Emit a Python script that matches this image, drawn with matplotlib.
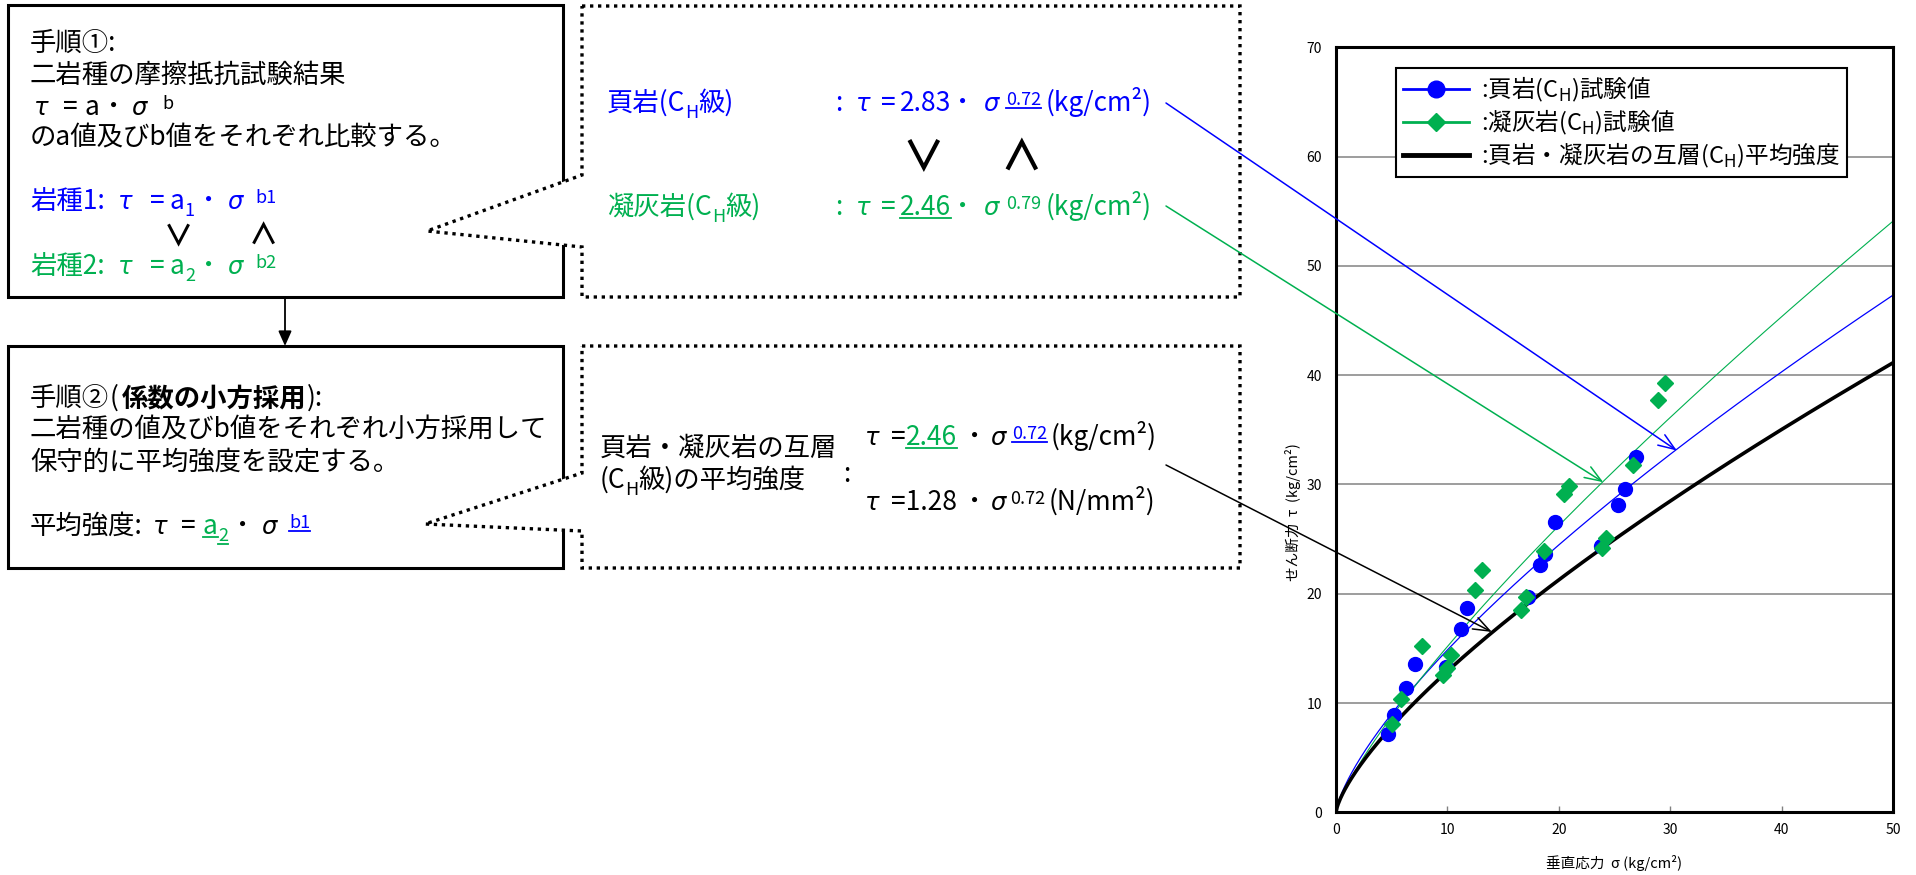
import matplotlib
matplotlib.use('Agg')
import matplotlib.pyplot as plt
import numpy as np
from matplotlib.patches import Rectangle, Polygon, ConnectionPatch
from matplotlib.lines import Line2D

plt.rcParams['font.family'] = ['Noto Sans CJK JP', 'DejaVu Sans']

BLUE = '#0000ff'
GREEN = '#00b050'

# 試験値
shale_sigma = [4.7, 5.2, 6.3, 7.1, 9.9, 11.2, 11.8, 17.2, 18.3, 18.8, 19.7, 23.8, 25.3, 25.9, 26.9]
shale_tau = [7.2, 8.9, 11.4, 13.6, 13.3, 16.8, 18.7, 19.7, 22.6, 23.6, 26.6, 24.4, 28.1, 29.6, 32.5]
tuff_sigma = [5.0, 5.8, 7.7, 9.6, 10.0, 10.3, 12.5, 13.1, 16.6, 17.1, 18.7, 20.5, 20.9, 23.9, 24.2, 26.7, 28.9, 29.5]
tuff_tau = [8.1, 10.4, 15.2, 12.6, 13.2, 14.4, 20.3, 22.2, 18.5, 19.7, 23.9, 29.1, 29.9, 24.2, 25.1, 31.8, 37.7, 39.3]

# 強度式 τ = a・σ^b
shale_a, shale_b = 2.83, 0.72
tuff_a, tuff_b = 2.46, 0.79
mean_a, mean_b = 2.46, 0.72

legend_labels = [':頁岩(C$_\\mathrm{H}$)試験値',
                 ':凝灰岩(C$_\\mathrm{H}$)試験値',
                 ':頁岩・凝灰岩の互層(C$_\\mathrm{H}$)平均強度']

# 矢印の先（グラフ上の点）
arrow_sigma = [30.6, 24.0, 14.0]
arrow_tau = [33.1, 30.2, 16.5]

fig = plt.figure(figsize=(19.16, 8.75), dpi=100)

# 左側の説明図はピクセル座標で描く
bg = fig.add_axes([0, 0, 1, 1])
bg.set_xlim(0, 1916)
bg.set_ylim(875, 0)
bg.axis('off')
R = fig.canvas.get_renderer()

# 種類: (サイズ, 上下ずれ)
SZ = {'n': (19, 0), 'b': (19, 0), 'g': (17.5, 0), 'dot': (19, 0), 'sub': (13, 7), 'sup': (13, -6)}


def flow(parts, y, color='k'):
    # 数値 = 絶対x位置, [dx] = 相対移動, タプル = (文字, 種類, 色, 下線)
    x = 0
    for p in parts:
        if isinstance(p, list):
            x += p[0]
            continue
        if not isinstance(p, tuple):
            x = p
            continue
        s = p[0]
        kind = p[1] if len(p) > 1 else 'n'
        c = p[2] if len(p) > 2 and p[2] else color
        ul = len(p) > 3 and p[3]
        size, dy = SZ[kind]
        kw = {}
        if kind == 'g':
            kw = dict(family='DejaVu Sans', style='italic')
        t = bg.text(x, y + dy, s, fontsize=size, color=c, va='baseline',
                    fontweight='bold' if kind in ('b', 'dot') else 'normal', zorder=5, **kw)
        w = t.get_window_extent(R).width
        if ul:
            bg.plot([x, x + w], [y + dy + 3, y + dy + 3], color=c, lw=1.3, zorder=5)
        x += w


def mark(x, y, s, size):
    bg.text(x, y, s, fontsize=size, ha='center', va='center', fontweight='bold', zorder=5)


# 実線の枠
for x0, y0, x1, y1 in [(8, 5, 563, 297), (8, 346, 563, 568)]:
    bg.add_patch(Rectangle((x0, y0), x1 - x0, y1 - y0, fill=False, ec='k', lw=2.2, zorder=2))

# 吹き出し（点線）
for top, bot, tip, a1, a2 in [(6, 297, (427, 231), 175, 247), (346, 568, (425, 524), 473, 531)]:
    pts = [(582, top), (1240, top), (1240, bot), (582, bot), (582, a2), tip, (582, a1)]
    bg.add_patch(Polygon(pts, closed=True, fc='white', ec='k', lw=2.4,
                         ls=(0, (1, 1.4)), joinstyle='miter', zorder=3))

bg.annotate('', xy=(285, 346), xytext=(285, 297),
            arrowprops=dict(arrowstyle='-|>,head_length=0.9,head_width=0.4',
                            color='k', lw=1.3, shrinkA=0, shrinkB=0))

# 手順①
flow([30, ('手順①:',)], 51)
flow([30, ('二岩種の摩擦抵抗試験結果',)], 83)
flow([34, ('τ', 'g'), 63, ('=',), 85, ('a',), 107, ('･', 'dot'), 131, ('σ', 'g'), 162, ('b', 'sup')], 115)
flow([30, ('のa値及びb値をそれぞれ比較する。',)], 146)
flow([30, ('岩種1:',), 118, ('τ', 'g'), 150, ('=',), 170, ('a',), ('1', 'sub'), 202, ('･', 'dot'),
      227, ('σ', 'g'), 255, ('b1', 'sup')], 209, BLUE)
mark(178, 236, '∨', 21)
mark(263, 236, '∧', 21)
flow([30, ('岩種2:',), 118, ('τ', 'g'), 150, ('=',), 170, ('a',), ('2', 'sub'), 202, ('･', 'dot'),
      227, ('σ', 'g'), 255, ('b2', 'sup')], 274, GREEN)

# 手順②
flow([30, ('手順②',), 110, ('(',), 122, ('係数の小方採用', 'b'), [0], ('):',)], 406)
flow([30, ('二岩種の値及びb値をそれぞれ小方採用して',)], 438)
flow([30, ('保守的に平均強度を設定する。',)], 469)
flow([30, ('平均強度:',), 153, ('τ', 'g'), 181, ('=',), 203, ('a', 'n', GREEN, True),
      ('2', 'sub', GREEN, True), 236, ('･', 'dot'), 261, ('σ', 'g'), 289, ('b1', 'sup', BLUE, True)], 534)

# 吹き出し1
flow([607, ('頁岩(C',), ('H', 'sub'), ('級)',), 835, (':',), 856, ('τ', 'g'), 881, ('=',),
      900, ('2.83',), 956, ('･', 'dot'), 983, ('σ', 'g'), 1006, ('0.72', 'sup', None, True),
      1046, ('(kg/cm²)',)], 111, BLUE)
mark(923, 158, '∨', 30)
mark(1021, 158, '∧', 30)
flow([607, ('凝灰岩(C',), ('H', 'sub'), ('級)',), 835, (':',), 856, ('τ', 'g'), 881, ('=',),
      900, ('2.46', 'n', None, True), 956, ('･', 'dot'), 983, ('σ', 'g'), 1006, ('0.79', 'sup'),
      1046, ('(kg/cm²)',)], 215, GREEN)

# 吹き出し2
flow([600, ('頁岩・凝灰岩の互層',)], 456)
flow([600, ('(C',), ('H', 'sub'), ('級)の平均強度',)], 488)
bg.text(847, 475, ':', fontsize=19, ha='center', va='center', zorder=5)
flow([865, ('τ', 'g'), 891, ('=',), 906, ('2.46', 'n', GREEN, True), 968, ('･', 'dot'), 990, ('σ', 'g'),
      1012, ('0.72', 'sup', BLUE, True), 1051, ('(kg/cm²)',)], 445)
flow([865, ('τ', 'g'), 891, ('=1.28',), 968, ('･', 'dot'), 990, ('σ', 'g'), 1010, ('0.72', 'sup'),
      1049, ('(N/mm²)',)], 510)

# グラフ
ax = fig.add_axes([1336 / 1916, 1 - 812.3 / 875, 557 / 1916, 765 / 875])
s = np.linspace(0, 50, 500)
ax.plot(s, shale_a * s ** shale_b, color=BLUE, lw=0.9, zorder=2)
ax.plot(s, tuff_a * s ** tuff_b, color=GREEN, lw=0.8, zorder=2)
ax.plot(s, mean_a * s ** mean_b, color='k', lw=2.6, zorder=2)
ax.plot(shale_sigma, shale_tau, 'o', color=BLUE, ms=10, zorder=3)
ax.plot(tuff_sigma, tuff_tau, 'D', color=GREEN, ms=8, zorder=4)

ax.set_xlim(0, 50)
ax.set_ylim(0, 70)
ax.set_xticks(range(0, 51, 10))
ax.set_yticks(range(0, 71, 10))
ax.yaxis.grid(True, color='#8c8c8c', lw=1.2)
ax.set_axisbelow(True)
ax.tick_params(axis='x', direction='in', length=4, width=1, color='#808080', pad=8, labelsize=10)
ax.tick_params(axis='y', length=0, pad=10, labelsize=10)
for sp in ax.spines.values():
    sp.set_linewidth(2.2)

handles = [Line2D([], [], color=BLUE, lw=2, marker='o', ms=12),
           Line2D([], [], color=GREEN, lw=2, marker='D', ms=9),
           Line2D([], [], color='k', lw=3.5)]
leg = ax.legend(handles, legend_labels, loc='upper left', bbox_to_anchor=(0.1077, 0.973),
                fancybox=False, edgecolor='k', framealpha=1, fontsize=17,
                handlelength=2.8, handletextpad=0.5, labelspacing=0.15,
                borderpad=0.3, borderaxespad=0)
leg.get_frame().set_linewidth(1.5)

bg.text(1614, 863, '垂直応力  σ (kg/cm²)', fontsize=10.5, ha='center', va='center')
bg.text(1293, 512, 'せん断力  τ  (kg/cm²)', fontsize=10.5, rotation=90, ha='center', va='center')

# 吹き出しからグラフへの矢印
for (x0, y0), sx, sy, c in zip([(1166, 103), (1166, 206), (1166, 465)],
                               arrow_sigma, arrow_tau, [BLUE, GREEN, 'k']):
    con = ConnectionPatch(xyA=(x0, y0), coordsA=bg.transData, xyB=(sx, sy), coordsB=ax.transData,
                          arrowstyle='->,head_length=1.2,head_width=0.45', color=c, lw=1.1,
                          shrinkA=0, shrinkB=0, zorder=10)
    fig.add_artist(con)

fig.savefig('out.png', dpi=100)
